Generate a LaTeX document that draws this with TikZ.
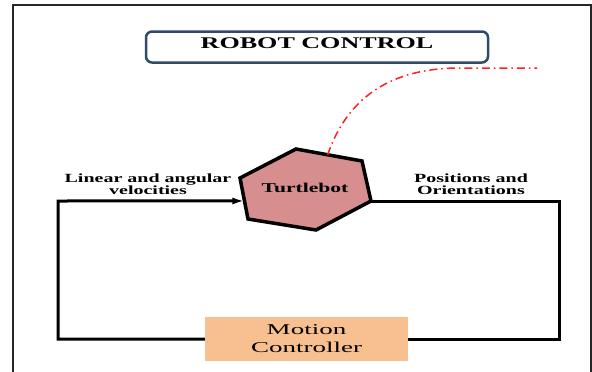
\documentclass[tikz,border=0pt]{standalone}
\usepackage{fontspec}
\setmainfont{Liberation Serif}
\newfontfamily\labelfont[FakeStretch=1.6]{Liberation Serif}
\newfontfamily\boxfont[FakeStretch=1.8]{Liberation Serif}
\usetikzlibrary{positioning}
\usetikzlibrary{calc, arrows.meta}
\definecolor{titleblue}{RGB}{47,74,107}
\definecolor{botred}{RGB}{214,142,142}
\definecolor{ctrlorange}{RGB}{248,192,144}
\definecolor{pathred}{RGB}{255,30,30}

\begin{document}
\begin{tikzpicture}[x=1pt,y=-1pt,
  loopline/.style={line width=3pt},
  sidelabel/.style={font=\labelfont\bfseries\fontsize{12.5}{12}\selectfont,align=center}]
\useasboundingbox (0,0) rectangle (592,372);
\draw[black!85,line width=1.5pt] (13,372) -- (13,5) -- (591,5) -- (591,372);

\node[draw=titleblue,line width=2.5pt,rounded corners=6pt,minimum width=342pt,minimum height=31pt,text depth=8pt,font=\labelfont\bfseries\fontsize{16.3}{16}\selectfont] (title) at (317,47) {ROBOT CONTROL};

\coordinate (h1) at (296,149);
\coordinate (h2) at (362,161);
\coordinate (h3) at (371,201);
\coordinate (h4) at (316,230);
\coordinate (h5) at (248,219);
\coordinate (h6) at (240,178);
\draw[fill=botred,line width=3.5pt] (h1) -- (h2) -- (h3) -- (h4) -- (h5) -- (h6) -- cycle;
\node[font=\labelfont\bfseries\fontsize{13.5}{14}\selectfont] (bot) at (305,188) {Turtlebot};
\coordinate (hin) at ($(h6)!0.56!(h5)$);
\coordinate (hout) at ($(h1)!0.48!(h2)$);

\draw[pathred,line width=1.5pt,dash pattern=on 8pt off 4pt on 1.5pt off 4pt] (hout) .. controls (350,90) and (400,68) .. (460,68) -- (537,68);

\node[fill=ctrlorange,minimum width=203pt,minimum height=44pt,align=center,font=\boxfont\fontsize{15}{18}\selectfont] (mc) at (306.5,339) {Motion\\Controller};

\draw[loopline] (h3) -- (559,201) |- (mc.east);
\draw[loopline,-{Latex[length=12pt,width=7pt]}] (mc.west) -| (58,201) -- (hin);

\node[sidelabel] (vel) at (148,184) {Linear and angular\\velocities};
\node[sidelabel] (pos) at (471,184) {Positions and\\Orientations};

\end{tikzpicture}
\end{document}
